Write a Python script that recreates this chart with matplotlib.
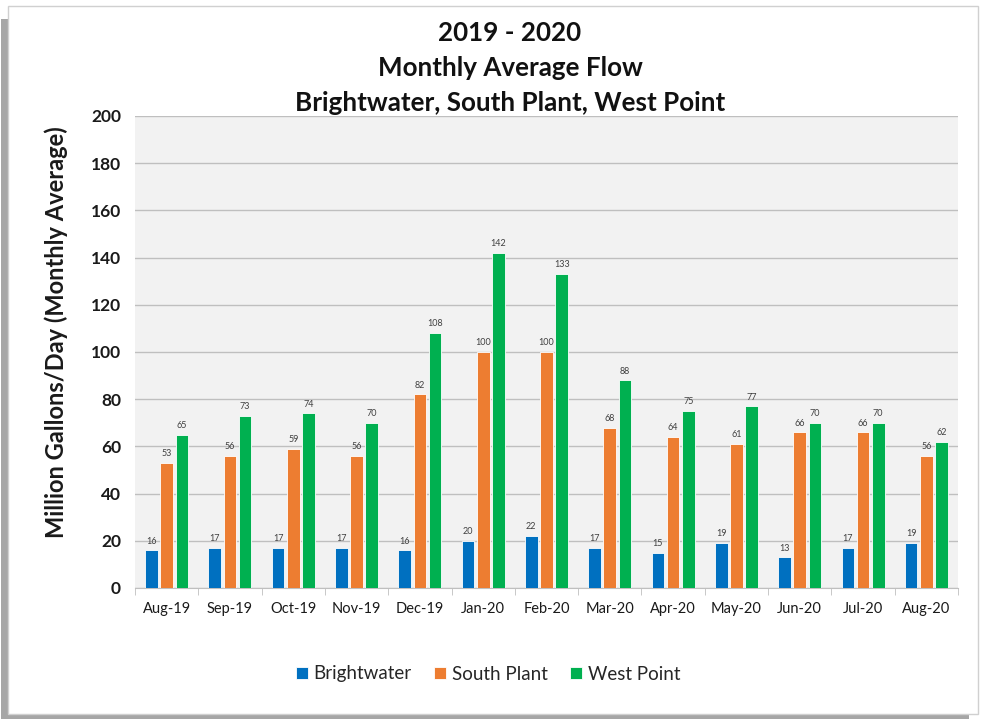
import matplotlib
matplotlib.use("Agg")
import matplotlib.pyplot as plt
from matplotlib.patches import Rectangle
import numpy as np

months = ["Aug-19", "Sep-19", "Oct-19", "Nov-19", "Dec-19", "Jan-20", "Feb-20",
          "Mar-20", "Apr-20", "May-20", "Jun-20", "Jul-20", "Aug-20"]
brightwater = [16, 17, 17, 17, 16, 20, 22, 17, 15, 19, 13, 17, 19]
south_plant = [53, 56, 59, 56, 82, 100, 100, 68, 64, 61, 66, 66, 56]
west_point = [65, 73, 74, 70, 108, 142, 133, 88, 75, 77, 70, 70, 62]
series_names = ["Brightwater", "South Plant", "West Point"]
colors = ["#0070C0", "#ED7D31", "#00B050"]
yticks = [0, 20, 40, 60, 80, 100, 120, 140, 160, 180, 200]

plt.rcParams['font.family'] = ['Lato', 'DejaVu Sans']

fig = plt.figure(figsize=(9.82, 7.2), dpi=100)
W, H = 982, 720
# shadow and frame
fig.patches.append(Rectangle((1 / W, 1 / H), 968 / W, 700 / H, transform=fig.transFigure,
                             facecolor="#A6A6A6", edgecolor="none", zorder=0))
fig.patches.append(Rectangle((8 / W, 6 / H), 970 / W, 708 / H, transform=fig.transFigure,
                             facecolor="white", edgecolor="#D0D0D0", linewidth=1.0, zorder=1))

ax = fig.add_axes([135 / W, (H - 588) / H, (958 - 135) / W, (588 - 116) / H])
ax.set_facecolor("#F2F2F2")
ax.set_zorder(2)

x = np.arange(len(months))
bw = 0.2
gap = 0.04
data = [brightwater, south_plant, west_point]
for i, (vals, c, name) in enumerate(zip(data, colors, series_names)):
    offs = (i - 1) * (bw + gap)
    ax.bar(x + offs, vals, width=bw, color=c, edgecolor="#FFFFFF", linewidth=0.6,
           label=name, zorder=3)
    for xi, v in zip(x + offs, vals):
        ax.text(xi, v + 2, str(v), ha="center", va="bottom", fontsize=6.5,
                color="#404040", zorder=4)

ax.set_xlim(-0.5, len(months) - 0.5)
ax.set_ylim(0, 200)
ax.set_yticks(yticks)
ax.set_yticklabels([str(t) for t in yticks], fontsize=12.5, fontweight="bold", color="#1a1a1a")
ax.set_xticks(x)
ax.set_xticklabels(months, fontsize=10.5, color="#1a1a1a")
ax.set_xticks(np.arange(len(months) + 1) - 0.5, minor=True)
ax.tick_params(axis="x", which="major", length=0, pad=10)
ax.tick_params(axis="x", which="minor", length=5, color="#BFBFBF")
ax.tick_params(axis="y", length=0, pad=10)
ax.grid(axis="y", color="#BFBFBF", linewidth=1.0, zorder=1)
ax.set_axisbelow(True)
for s in ["top", "right", "left"]:
    ax.spines[s].set_visible(False)
ax.spines["bottom"].set_color("#BFBFBF")

ax.set_ylabel("Million Gallons/Day (Monthly Average)", fontsize=17, fontweight="bold",
              color="#1a1a1a")
ax.yaxis.set_label_coords(-67 / 823, (588 - 332) / 472)

title_lines = ["2019 - 2020", "Monthly Average Flow", "Brightwater, South Plant, West Point"]
for ty, tl in zip([33, 68, 103], title_lines):
    fig.text(510 / W, 1 - ty / H, tl, ha="center", va="center", fontsize=18.7,
             fontweight="bold", color="#111111", zorder=5)

leg = fig.legend(loc="center", bbox_to_anchor=(488 / W, 1 - 674 / H), ncol=3, frameon=False,
                 fontsize=13.5, handlelength=0.65, handleheight=0.65, handletextpad=0.3,
                 columnspacing=1.2)
for t in leg.get_texts():
    t.set_color("#262626")

fig.savefig("out.png", dpi=100)
